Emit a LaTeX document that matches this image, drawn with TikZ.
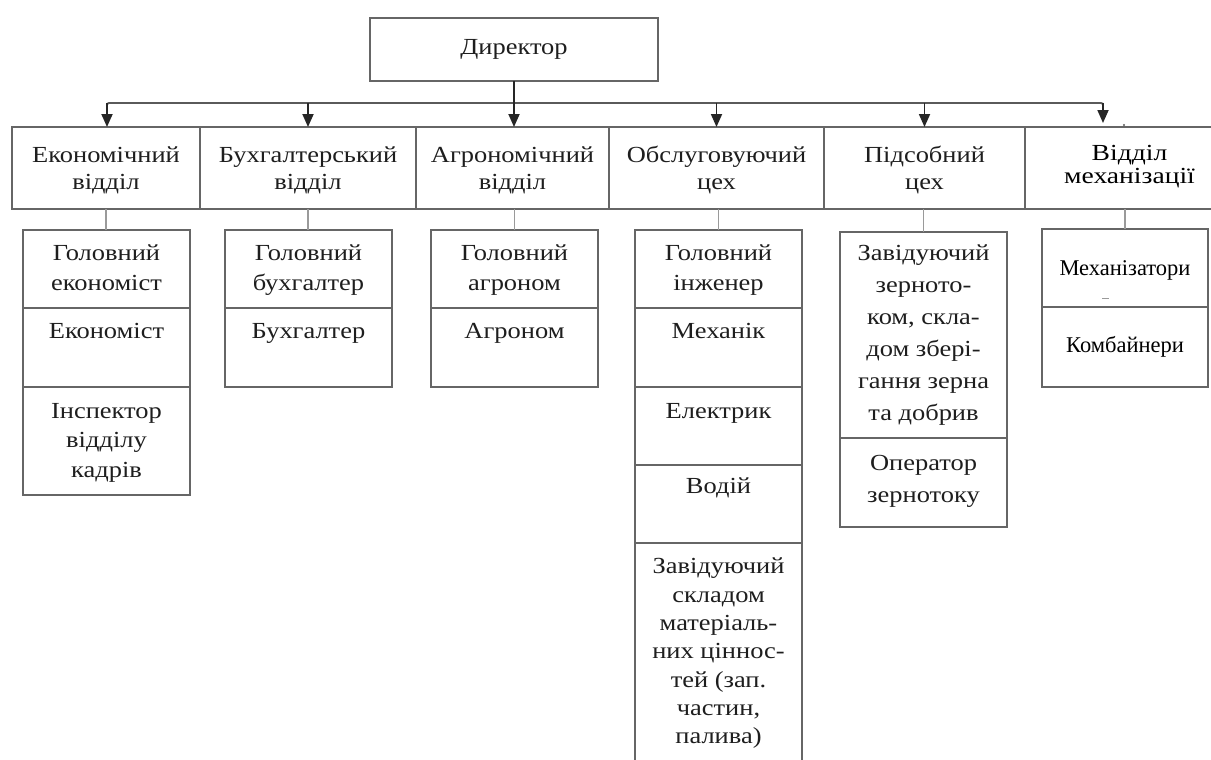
\documentclass[tikz,border=0pt]{standalone}
\usepackage{fontspec}
\setmainfont{Liberation Serif}[FakeStretch=1.15]
\newfontfamily\crispfont{Liberation Serif}
\newfontfamily\widefont{Liberation Serif}[FakeStretch=1.2]
\usetikzlibrary{arrows.meta}
\definecolor{boxgray}{HTML}{666666}
\definecolor{busgray}{HTML}{5A5A5A}
\definecolor{conngray}{HTML}{9A9A9A}
\definecolor{txt}{HTML}{1E1E1E}
\newcommand\mkcell[5]{\node[cellbox, anchor=north west, minimum width={(#4-#2)*1pt}, minimum height={(#5-#3)*1pt}] (#1) at (#2,#3) {};}
\begin{document}
\begin{tikzpicture}[x=1pt,y=-1pt,
  cellbox/.style={draw=boxgray, line width=1.8pt, inner sep=0pt, outer sep=0pt},
  ctext/.style={align=center, inner sep=0pt, anchor=north, text=txt, font=\fontsize{23}{29.5}\selectfont},
  dtext/.style={align=center, inner sep=0pt, text=txt, font=\fontsize{23}{27}\selectfont},
  crisp/.style={align=center, inner sep=0pt, text=black, font=\crispfont\fontsize{22.5}{23}\selectfont},
  arr/.style={draw=black!85, line width=1.8pt, -{Triangle[width=11pt,length=13pt]}},
  bus/.style={draw=busgray, line width=1.8pt, rounded corners=2pt},
  conn/.style={draw=conngray, line width=1.3pt}]
\useasboundingbox (0,0) rectangle (1211,760);
\fill[white] (0,0) rectangle (1211,760);

% Director
\mkcell{dir}{370}{18}{658}{81}
\node[dtext] (dirt) at (dir.center) {Директор};

% Department row
\mkcell{d1}{12}{127}{200}{209}
\mkcell{d2}{200}{127}{416}{209}
\mkcell{d3}{416}{127}{609}{209}
\mkcell{d4}{609}{127}{824}{209}
\mkcell{d5}{824}{127}{1025}{209}
\mkcell{d6}{1025}{127}{1218}{209}
\node[dtext] (d1t) at ([yshift=-2pt]d1.center) {Економічний\\відділ};
\node[dtext] (d2t) at ([yshift=-2pt]d2.center) {Бухгалтерський\\відділ};
\node[dtext] (d3t) at ([yshift=-2pt]d3.center) {Агрономічний\\відділ};
\node[dtext] (d4t) at ([yshift=-2pt]d4.center) {Обслуговуючий\\цех};
\node[dtext] (d5t) at ([yshift=-2pt]d5.center) {Підсобний\\цех};
\node[crisp, font=\widefont\fontsize{23}{23}\selectfont] (d6t) at ([xshift=8pt,yshift=1pt]d6.center) {Відділ\\механізації};

% Bus and arrows
\coordinate (busL) at (107,103);
\coordinate (busR) at (1103,103);
\draw[bus] ([yshift=-14pt]busL) -- (busL) -- (busR) -- ([yshift=-6pt]busR);
\draw[arr] (dir.south) -- (dir.south |- d3.north);
\draw[arr] (busL) -- (busL |- d1.north);
\draw[arr] (d2.north |- busL) -- (d2.north);
\draw[arr] (d4.north |- busL) -- (d4.north);
\draw[arr] (d5.north |- busL) -- (d5.north);
\draw[arr, shorten >=4pt] (busR) -- (busR |- d6.north);
\fill[busgray] (1124,125) circle (1.2pt);

% Column 1
\mkcell{e1}{23}{230}{190}{308}
\mkcell{e2}{23}{308}{190}{387}
\mkcell{e3}{23}{387}{190}{495}
\node[ctext] (e1t) at ([yshift=-15pt]e1.north) {Головний\\економіст};
\node[ctext] (e2t) at ([yshift=-15pt]e2.north) {Економіст};
\node[ctext] (e3t) at ([yshift=-16pt]e3.north) {Інспектор\\відділу\\кадрів};

% Column 2
\mkcell{b1}{225}{230}{392}{308}
\mkcell{b2}{225}{308}{392}{387}
\node[ctext] (b1t) at ([yshift=-15pt]b1.north) {Головний\\бухгалтер};
\node[ctext] (b2t) at ([yshift=-15pt]b2.north) {Бухгалтер};

% Column 3
\mkcell{a1}{431}{230}{598}{308}
\mkcell{a2}{431}{308}{598}{387}
\node[ctext] (a1t) at ([yshift=-15pt]a1.north) {Головний\\агроном};
\node[ctext] (a2t) at ([yshift=-15pt]a2.north) {Агроном};

% Column 4
\mkcell{o1}{635}{230}{802}{308}
\mkcell{o2}{635}{308}{802}{387}
\mkcell{o3}{635}{387}{802}{465}
\mkcell{o4}{635}{465}{802}{543}
\mkcell{o5}{635}{543}{802}{775}
\node[ctext] (o1t) at ([yshift=-15pt]o1.north) {Головний\\інженер};
\node[ctext] (o2t) at ([yshift=-15pt]o2.north) {Механік};
\node[ctext] (o3t) at ([yshift=-16pt]o3.north) {Електрик};
\node[ctext] (o4t) at ([yshift=-13pt]o4.north) {Водій};
\node[ctext, font=\fontsize{23}{28.3}\selectfont] (o5t) at ([yshift=-15pt]o5.north) {Завідуючий\\складом\\матеріаль-\\них ціннос-\\тей (зап.\\частин,\\палива)};

% Column 5
\mkcell{p1}{840}{232}{1007}{438}
\mkcell{p2}{840}{438}{1007}{527}
\node[ctext, font=\fontsize{23}{32}\selectfont] (p1t) at ([yshift=-13pt]p1.north) {Завідуючий\\зерното-\\ком, скла-\\дом збері-\\гання зерна\\та добрив};
\node[ctext, font=\fontsize{23}{32}\selectfont] (p2t) at ([yshift=-17pt]p2.north) {Оператор\\зернотоку};

% Column 6
\mkcell{m1}{1042}{229}{1208}{307}
\mkcell{m2}{1042}{307}{1208}{387}
\node[crisp] (m1t) at ([yshift=-2pt]m1.center) {Механізатори};
\node[crisp] (m2t) at (m2.center) {Комбайнери};
\draw[conngray, line width=0.8pt] (1102,298) -- (1109,298);

% Connectors
\draw[conn] (d1.south) -- (d1.south |- e1.north);
\draw[conn] (d2.south) -- (d2.south |- b1.north);
\draw[conn] (a1.north |- d3.south) -- (a1.north);
\draw[conn] (o1.north |- d4.south) -- (o1.north);
\draw[conn] (p1.north |- d5.south) -- (p1.north);
\draw[conn] (m1.north |- d6.south) -- (m1.north);
\end{tikzpicture}
\end{document}
